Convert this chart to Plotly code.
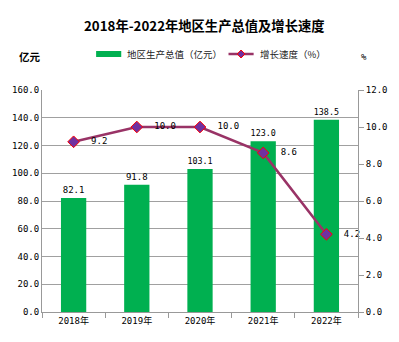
import plotly.graph_objects as go

years = ["2018年", "2019年", "2020年", "2021年", "2022年"]
gdp = [82.1, 91.8, 103.1, 123.0, 138.5]
growth = [9.2, 10.0, 10.0, 8.6, 4.2]

W, H = 399, 342
L, R, T, B = 39, 33, 90, 30
PW, PH = W - L - R, H - T - B
mono = "DejaVu Sans Mono, Noto Sans CJK SC"
cjk = "Noto Sans CJK SC"

bar_color = "#00B050"
line_color = "#993366"
marker_fill = "#7030A0"
marker_edge = "#FF0000"


def px(x):
    return (x - L) / PW


def py(y):
    return (H - B - y) / PH


fig = go.Figure()
fig.add_trace(go.Bar(
    x=years, y=gdp, name="地区生产总值（亿元）",
    marker=dict(color=bar_color, line=dict(width=0)),
    text=[f"{v:.1f}" for v in gdp], textposition="outside",
    textfont=dict(family=mono, size=9, color="black"),
    cliponaxis=False,
))
fig.add_trace(go.Scatter(
    x=years, y=growth, name="增长速度（%）", yaxis="y2",
    mode="lines+markers+text",
    line=dict(color=line_color, width=2.5),
    marker=dict(symbol="diamond", size=9, color=marker_fill,
                line=dict(color=marker_edge, width=1)),
    text=[f"\u00a0\u00a0{v:.1f}" for v in growth], textposition="middle right",
    textfont=dict(family=mono, size=9, color="black"),
    cliponaxis=False,
))

fig.update_layout(
    width=W, height=H,
    margin=dict(l=L, r=R, t=T, b=B),
    paper_bgcolor="white", plot_bgcolor="white",
    showlegend=False,
    xaxis=dict(
        type="category", showgrid=False, showline=True, linecolor="#999",
        ticks="outside", tickson="boundaries", ticklen=5, tickcolor="#999",
        tickfont=dict(family=mono, size=9, color="black"),
    ),
    yaxis=dict(
        range=[0, 160], dtick=20, tickformat=".1f",
        showgrid=True, gridcolor="#A0A0A0", gridwidth=1,
        showline=True, linecolor="#999", zeroline=False,
        ticks="", tickfont=dict(family=mono, size=9, color="black"),
    ),
    yaxis2=dict(
        range=[0, 12], dtick=2, tickformat=".1f", overlaying="y", side="right",
        showgrid=False, showline=True, linecolor="#999", zeroline=False,
        ticks="outside", ticklen=5, tickcolor="#999",
        tickfont=dict(family=mono, size=9, color="black"),
    ),
    bargap=0.6,
)

# Title and axis unit labels
fig.add_annotation(
    text="<b>2018年-2022年地区生产总值及增长速度</b>",
    xref="paper", yref="paper", x=px(207), y=py(25),
    showarrow=False, xanchor="center", yanchor="middle",
    font=dict(family=cjk, size=13.3, color="black"),
)
fig.add_annotation(
    text="<b>亿元</b>", xref="paper", yref="paper", x=px(27), y=py(57),
    showarrow=False, xanchor="center", yanchor="middle",
    font=dict(family=cjk, size=10.5, color="black"),
)
fig.add_annotation(
    text="%", xref="paper", yref="paper", x=px(372), y=py(57),
    showarrow=False, xanchor="center", yanchor="middle",
    font=dict(family=mono, size=9, color="black"),
)

# Legend drawn by hand: wide green swatch and line-with-diamond sample
ly = 54
fig.add_shape(type="rect", xref="paper", yref="paper",
              x0=px(95), x1=px(121), y0=py(ly - 3), y1=py(ly + 3),
              fillcolor=bar_color, line=dict(width=0))
fig.add_annotation(
    text="地区生产总值（亿元）", xref="paper", yref="paper", x=px(125), y=py(ly),
    showarrow=False, xanchor="left", yanchor="middle",
    font=dict(family=cjk, size=9.5, color="#222"),
)
fig.add_shape(type="line", xref="paper", yref="paper",
              x0=px(232), x1=px(258), y0=py(ly), y1=py(ly),
              line=dict(color=line_color, width=2.5))
cx, s = 245, 4
diamond = (f"M {px(cx)} {py(ly - s)} L {px(cx + s)} {py(ly)} "
           f"L {px(cx)} {py(ly + s)} L {px(cx - s)} {py(ly)} Z")
fig.add_shape(type="path", xref="paper", yref="paper", path=diamond,
              fillcolor=marker_fill, line=dict(color=marker_edge, width=1))
fig.add_annotation(
    text="增长速度（%）", xref="paper", yref="paper", x=px(263), y=py(ly),
    showarrow=False, xanchor="left", yanchor="middle",
    font=dict(family=cjk, size=9.5, color="#222"),
)

fig.write_html("out.html")
